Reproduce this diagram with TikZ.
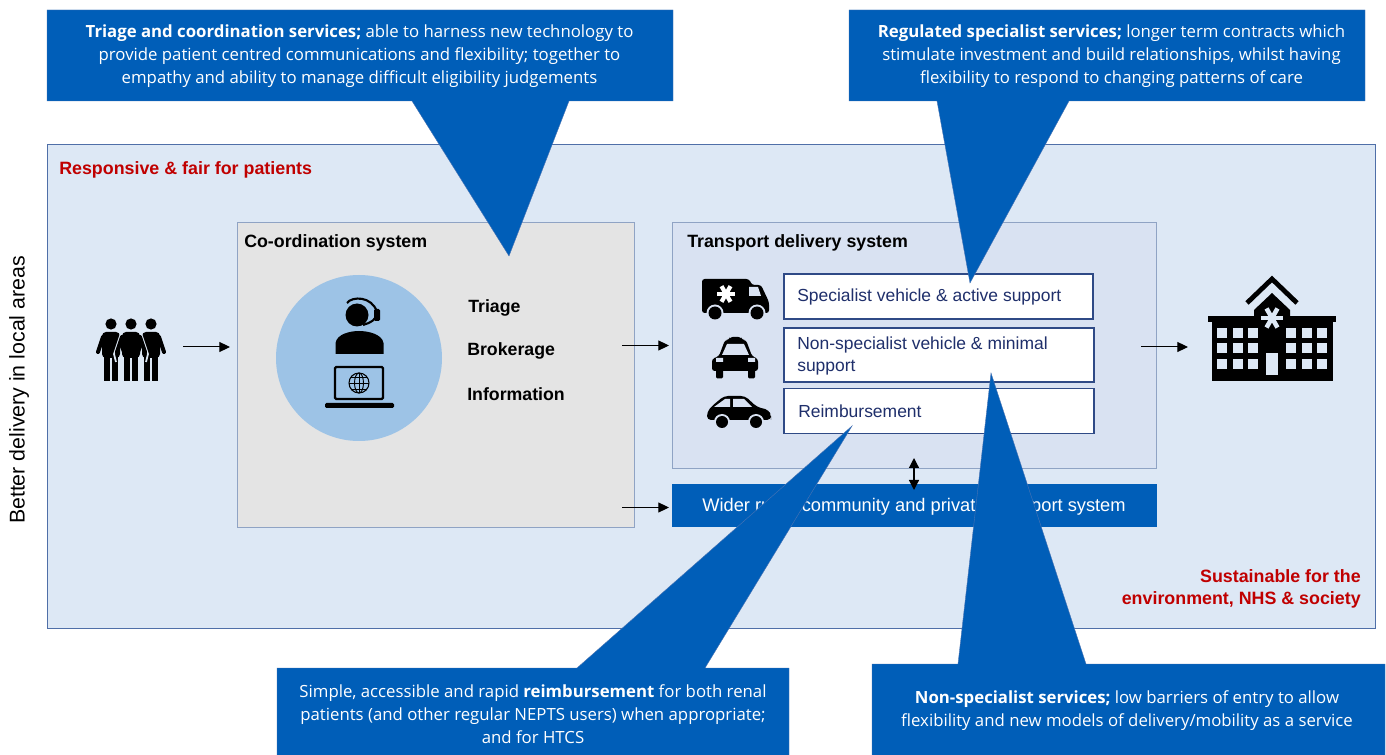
\documentclass[tikz,border=0pt]{standalone}
\usepackage{fontspec}
\setmainfont{Liberation Sans}
\newfontfamily\calloutfont{Open Sans}
\usetikzlibrary{arrows.meta}
\definecolor{nhsblue}{HTML}{005EB8}
\definecolor{panelfill}{HTML}{DDE8F5}
\definecolor{panelline}{HTML}{4F6FA8}
\definecolor{greyfill}{HTML}{E4E4E4}
\definecolor{greyline}{HTML}{8FA3C4}
\definecolor{tdsfill}{HTML}{D9E2F2}
\definecolor{navytext}{HTML}{1F2F6B}
\definecolor{navyline}{HTML}{2F4A86}
\definecolor{circlefill}{HTML}{9DC3E6}
\definecolor{redtext}{HTML}{C00000}
\definecolor{calloutedge}{HTML}{4A74B4}
\tikzset{
  callout/.style={fill=nhsblue,draw=calloutedge,line width=0.3pt},
  callouttext/.style={text=white,font=\calloutfont\fontsize{12.58}{17.25}\selectfont,align=center,inner sep=0pt},
  optionbox/.style={draw=navyline,line width=0.9pt,fill=white,inner sep=0pt},
  optiontext/.style={text=navytext,font=\fontsize{13.1}{16.5}\selectfont,align=left,inner sep=0pt,anchor=west},
  flow/.style={-{Triangle[length=8pt,width=7.5pt]},line width=0.75pt,black},
  heading/.style={font=\bfseries\fontsize{13.35}{15}\selectfont,inner sep=0pt},
  listlabel/.style={font=\bfseries\fontsize{13.3}{15}\selectfont,anchor=west,inner sep=0pt},
  redlabel/.style={text=redtext,font=\bfseries\fontsize{13.38}{16.5}\selectfont,inner sep=0pt},
  icon/.style={fill=black,draw=none},
}
\begin{document}
\begin{tikzpicture}[x=0.75pt,y=-0.75pt]
\useasboundingbox (0,0) rectangle (1386,755);
\fill[white] (0,0) rectangle (1386,755);
% panels
\node[draw=panelline,line width=0.6pt,fill=panelfill,minimum width=1328*0.75pt,minimum height=484*0.75pt,inner sep=0pt] (outer) at (711,386) {};
\node[draw=greyline,line width=0.6pt,fill=greyfill,minimum width=397*0.75pt,minimum height=305*0.75pt,inner sep=0pt] (coord) at (435.5,374.5) {};
\node[draw=greyline,line width=0.6pt,fill=tdsfill,minimum width=484*0.75pt,minimum height=246*0.75pt,inner sep=0pt] (tds) at (914,345) {};
\node[fill=nhsblue,minimum width=485*0.75pt,minimum height=43*0.75pt,inner sep=0pt] (wider) at (914.5,505.5) {};
\node[text=white,inner sep=0pt,font=\fontsize{13.7}{15}\selectfont] (widert) at (914,506.5) {Wider rural, community and private transport system};
% labels
\node[redlabel,anchor=west] (resp) at (59,170) {Responsive \& fair for patients};
\node[redlabel,anchor=east,align=right] (sust) at (1361,589) {Sustainable for the\\environment, NHS \& society};
\node[rotate=90,font=\fontsize{16}{18}\selectfont,inner sep=0pt] (better) at (19,390) {Better delivery in local areas};
\node[heading,anchor=west] (coordt) at (244,243) {Co-ordination system};
\node[heading,anchor=west] (tdst) at (687,243) {Transport delivery system};
\node[listlabel] (triage) at (468,308) {Triage};
\node[listlabel] (brok) at (467,351) {Brokerage};
\node[listlabel] (info) at (467,394) {Information};
% option boxes
\node[optionbox,minimum width=309*0.75pt,minimum height=45*0.75pt] (spec) at (938.5,296.5) {};
\node[optionbox,minimum width=310*0.75pt,minimum height=54*0.75pt] (nons) at (939,355) {};
\node[optionbox,minimum width=310*0.75pt,minimum height=45*0.75pt] (reimb) at (939,411) {};
\node[optiontext] (spect) at (797,296.5) {Specialist vehicle \& active support};
\node[optiontext] (nonst) at (797,356) {Non-specialist vehicle \& minimal\\support};
\node[optiontext] (reimbt) at (798,411) {Reimbursement};
% circle with agent
\node[circle,fill=circlefill,minimum size=166*0.75pt,inner sep=0pt] (agentc) at (359,358) {};
\fill[icon] (357,315) circle (11.5);
\draw[line width=1.6pt] (347,303) .. controls (352,296) and (372,296) .. (377,312) .. controls (378,319) and (370,323) .. (363,325);
\fill[icon,rounded corners=1pt] (374,309) rectangle (380,321);
\fill[icon] (335.5,354) -- (335.5,343) .. controls (337,334) and (350,331) .. (359,331) .. controls (368,331) and (382,334) .. (383.5,343) -- (383.5,354) -- cycle;
\draw[line width=1.7pt,rounded corners=1pt] (335,367) rectangle (383,399);
\fill[icon,rounded corners=1pt] (325,403) rectangle (394,408);
\draw[line width=0.8pt] (359,383) circle (10);
\draw[line width=0.7pt] (359,383) ellipse (4.5 and 10);
\draw[line width=0.7pt] (349,383) -- (369,383) (351,377) -- (367,377) (351,389) -- (367,389) (359,373) -- (359,393);
% people
\foreach \px in {111,131,151}{
  \fill[icon] (\px,324) circle (5.6);
}
\foreach \px in {111,151}{
  \fill[icon,rounded corners=3pt] (\px-9,332) rectangle (\px+9,358);
  \fill[icon] (\px-7,355) rectangle (\px-1,381);
  \fill[icon] (\px+1,355) rectangle (\px+7,381);
  \draw[line width=3pt,line cap=round] (\px-8,337) -- (\px-13,352);
  \draw[line width=3pt,line cap=round] (\px+8,337) -- (\px+13,352);
}
\draw[panelfill,line width=1.3pt] (121,333) -- (114,354) -- (116,362);
\draw[panelfill,line width=1.3pt] (141,333) -- (148,354) -- (146,362);
\fill[icon,rounded corners=3pt] (122,332) rectangle (140,358);
\fill[icon] (124,355) rectangle (130,381);
\fill[icon] (132,355) rectangle (138,381);
\draw[line width=3pt,line cap=round] (122,337) -- (117,352);
\draw[line width=3pt,line cap=round] (140,337) -- (145,352);
% ambulance
\fill[icon,rounded corners=2pt] (702,279) -- (749,279) -- (752,285) -- (761,285) -- (769,302) -- (769,313) -- (702,313) -- cycle;
\fill[tdsfill] (749,287) -- (758,287) -- (761,296) -- (749,296) -- cycle;
\foreach \ang in {0,60,120}{
  \draw[white,line width=3.2pt,rotate around={\ang+30:(726,294)}] (726,285) -- (726,303);
}
\fill[tdsfill] (715,313) circle (8.5) (757,313) circle (8.5);
\fill[icon] (715,313) circle (6.5) (757,313) circle (6.5);
% taxi
\fill[icon,rounded corners=2pt] (730,337) -- (741,337) -- (742,340) -- (746,340) -- (752,356) -- (758,359) -- (758,371) -- (712,371) -- (712,359) -- (719,356) -- (725,340) -- (729,340) -- cycle;
\fill[tdsfill] (727,344) -- (744,344) -- (749,355) -- (722,355) -- cycle;
\fill[icon,rounded corners=1pt] (716,369) rectangle (723,378.5) (748,369) rectangle (755,378.5);
\fill[tdsfill] (716,358) rectangle (723,362) (748,358) rectangle (755,362);
% car
\fill[icon,rounded corners=3pt] (707,420) -- (707,412) -- (712,406) -- (724,396) -- (745,396) -- (757,407) -- (769,410) -- (771,416) -- (771,420) -- cycle;
\fill[tdsfill] (714,407) -- (725,399) -- (730,399) -- (730,407) -- cycle;
\fill[tdsfill] (733,399) -- (744,399) -- (752,407) -- (733,407) -- cycle;
\fill[tdsfill] (722,422) circle (8) (756,422) circle (8);
\fill[icon] (722,422) circle (6) (756,422) circle (6);
% hospital
\fill[icon] (1208,316) rectangle (1336,322);
\fill[icon] (1212,318) rectangle (1333,381);
\fill[icon] (1254,318) -- (1254,310) -- (1272,293) -- (1290,310) -- (1290,318) -- cycle;
\draw[line width=3.6pt] (1247,303) -- (1272,279) -- (1297,303);
\foreach \ang in {0,60,120}{
  \draw[panelfill,line width=3.4pt,rotate around={\ang+30:(1272,318)}] (1272,307) -- (1272,329);
}
\foreach \wy in {328,343,359}{
  \foreach \wx in {1217,1233,1248,1286,1302,1317}{
    \fill[panelfill] (\wx,\wy) rectangle ++(10,10);
  }
}
\fill[panelfill] (1266,353) rectangle (1278,375);
% arrows
\coordinate (a1s) at (183,347); \coordinate (a1e) at (230,347);
\coordinate (a2s) at (622,345.5); \coordinate (a2e) at (669,345.5);
\coordinate (a3s) at (622,507.5); \coordinate (a3e) at (669,507.5);
\coordinate (a4s) at (1141,347); \coordinate (a4e) at (1188,347);
\coordinate (a5s) at (914,458); \coordinate (a5e) at (914,490);
\draw[flow] (a1s) -- (a1e);
\draw[flow] (a2s) -- (a2e);
\draw[flow] (a3s) -- (a3e);
\draw[flow] (a4s) -- (a4e);
\draw[{Triangle[length=7.5pt,width=7.5pt]}-{Triangle[length=7.5pt,width=7.5pt]},line width=0.9pt] (a5s) -- (a5e);
% callouts
\draw[callout] (47,10) -- (673,10) -- (673,101) -- (569,101) -- (509,256) -- (412,101) -- (47,101) -- cycle;
\draw[callout] (849,10) -- (1365,10) -- (1365,101) -- (1069,101) -- (970,283) -- (937,101) -- (849,101) -- cycle;
\draw[callout] (277,668) -- (577,668) -- (852,426) -- (705,668) -- (789,668) -- (789,756) -- (277,756) -- cycle;
\draw[callout] (872,664) -- (958,664) -- (991,373) -- (1086,664) -- (1385,664) -- (1385,756) -- (872,756) -- cycle;
\node[callouttext] (c1) at (359.5,56) {\textbf{Triage and coordination services;} able to harness new technology to\\provide patient centred communications and flexibility; together to\\empathy and ability to manage difficult eligibility judgements};
\node[callouttext] (c2) at (1111.5,56) {\textbf{Regulated specialist services;} longer term contracts which\\stimulate investment and build relationships, whilst having\\flexibility to respond to changing patterns of care};
\node[callouttext] (c3) at (533,714.5) {Simple, accessible and rapid \textbf{reimbursement} for both renal\\patients (and other regular NEPTS users) when appropriate;\\and for HTCS};
\node[callouttext] (c4) at (1127,711) {\textbf{Non-specialist services;} low barriers of entry to allow\\flexibility and new models of delivery/mobility as a service};
\end{tikzpicture}
\end{document}
